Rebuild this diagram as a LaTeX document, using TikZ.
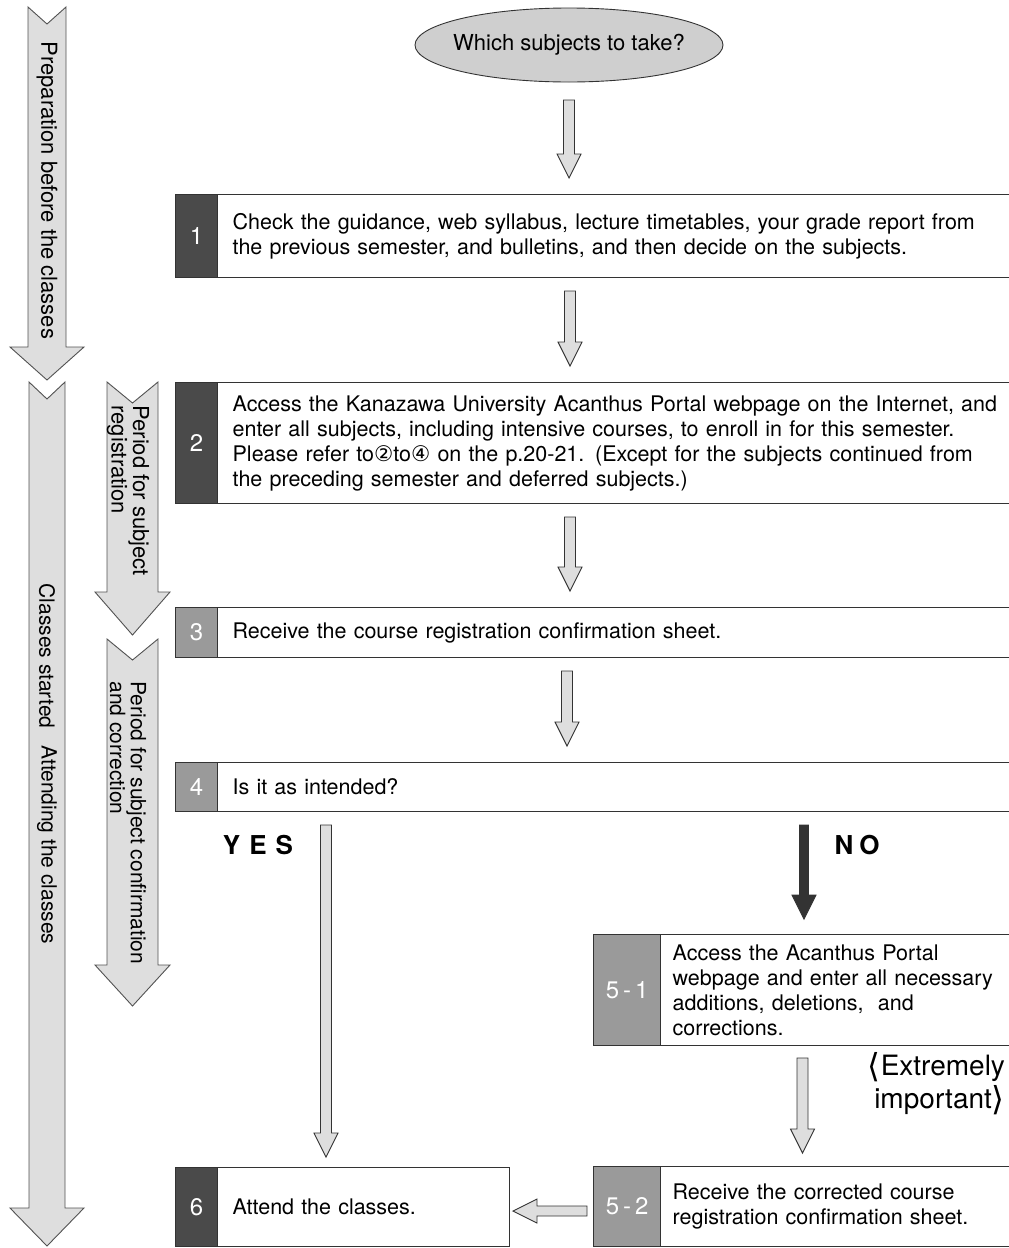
\documentclass[tikz,border=0pt]{standalone}
\usepackage{fontspec}
\setmainfont{TeX Gyre Heros}
\newfontfamily\dejavu{DejaVu Sans}
\usetikzlibrary{calc,shapes.geometric}
\definecolor{arrowfill}{HTML}{DEDEDE}
\definecolor{darknum}{HTML}{4A4A4A}
\definecolor{lightnum}{HTML}{9A9A9A}
\definecolor{ellfill}{HTML}{CFCFCF}
\definecolor{edge}{HTML}{333333}
\newcommand\dnarrow[3][]{\draw[blk,#1] let \p1=(#2), \p2=(#3) in
  (\x1-5.5pt,\y1) -- (\x1+5.5pt,\y1) -- (\x1+5.5pt,\y2+24pt) -- (\x1+12pt,\y2+24pt)
  -- (\x1,\y2) -- (\x1-12pt,\y2+24pt) -- (\x1-5.5pt,\y2+24pt) -- cycle;}
\newcommand\lfarrow[3][]{\draw[blk,#1] let \p1=(#2), \p2=(#3) in
  (\x1,\y1-5pt) -- (\x1,\y1+5pt) -- (\x2+24pt,\y1+5pt) -- (\x2+24pt,\y1+12pt)
  -- (\x2,\y1) -- (\x2+24pt,\y1-12pt) -- (\x2+24pt,\y1-5pt) -- cycle;}
\newcommand\bigbr[1]{{\dejavu\fontsize{33}{33}\selectfont\raisebox{-1.5pt}{#1}}}
\begin{document}
\begin{tikzpicture}[x=1pt,y=-1pt,
  blk/.style={draw=edge, fill=arrowfill, line width=0.9pt},
  bigarrow/.style={draw=edge!85, fill=arrowfill, line width=0.9pt},
  numbox/.style={draw=edge, line width=1.3pt, anchor=north west, minimum width=42,
     text=white, font=\fontsize{24}{24}\selectfont, inner sep=0pt},
  bodybox/.style={draw=edge, line width=1.3pt, anchor=north west, align=left,
     inner xsep=15pt, inner ysep=0pt, font=\fontsize{21.5}{25}\selectfont},
  sidetext/.style={rotate=-90, anchor=west, align=left, font=\fontsize{22}{20}\selectfont},
  yesno/.style={font=\fontsize{26}{26}\selectfont\bfseries},
  imptext/.style={anchor=east, inner sep=0pt, font=\fontsize{28}{28}\selectfont}]
\useasboundingbox (0,0) rectangle (1009,1248);

% timeline arrows
\draw[bigarrow] (28,7) -- (47,24) -- (66,7) -- (66,347) -- (84,347) -- (47,380) -- (10,347) -- (28,347) -- cycle;
\draw[bigarrow] (29,382) -- (47,399) -- (65,382) -- (65,1208) -- (84,1208) -- (47,1246) -- (10,1208) -- (29,1208) -- cycle;
\draw[bigarrow] (107,382) -- (132.5,403) -- (158,382) -- (158,592) -- (170,592) -- (132.5,635) -- (95,592) -- (107,592) -- cycle;
\draw[bigarrow] (107,639) -- (132.5,660) -- (158,639) -- (158,965) -- (170,965) -- (132.5,1006) -- (95,965) -- (107,965) -- cycle;

\node[sidetext] (tprep) at (47,38) {Preparation before the classes};
\node[sidetext, font=\fontsize{21}{21}\selectfont] (tclass) at (47,580) {Classes started};
\node[sidetext, font=\fontsize{21}{21}\selectfont] (tattend) at (47,742) {Attending the classes};
\node[sidetext] (treg) at (128,402) {Period for subject\\registration};
\node[sidetext, font=\fontsize{21}{19}\selectfont] (tconf) at (128,678) {Period for subject confirmation\\and correction};

% start
\draw[draw=edge, line width=0.9pt, fill=ellfill] (569,45) ellipse [x radius=154, y radius=37];
\node[font=\fontsize{22}{22}\selectfont] (start) at (569,45) {Which subjects to take?};

% box 1
\node[numbox, fill=darknum, minimum height=83] (n1) at (175,194) {1};
\node[bodybox, text width=785, minimum height=83] (b1) at (217,194)
  {Check the guidance, web syllabus, lecture timetables, your grade report from\\
   the previous semester, and bulletins, and then decide on the subjects.};
% box 2
\node[numbox, fill=darknum, minimum height=121] (n2) at (175,382) {2};
\node[bodybox, text width=785, minimum height=121] (b2) at (217,382)
  {Access the Kanazawa University Acanthus Portal webpage on the Internet, and\\
   enter all subjects, including intensive courses, to enroll in for this semester.\\
   Please refer to{\dejavu ②}to{\dejavu ④} on the p.20-21. (Except for the subjects continued from\\
   the preceding semester and deferred subjects.)};
% box 3
\node[numbox, fill=lightnum, minimum height=50] (n3) at (175,607) {3};
\node[bodybox, text width=785, minimum height=50] (b3) at (217,607)
  {Receive the course registration confirmation sheet.};
% box 4
\node[numbox, fill=lightnum, minimum height=49] (n4) at (175,762) {4};
\node[bodybox, text width=785, minimum height=49] (b4) at (217,762)
  {Is it as intended?};
% box 5-1
\node[numbox, fill=lightnum, minimum width=67, minimum height=111] (n51) at (593,934) {5\,-\,1};
\node[bodybox, text width=335, minimum height=111, inner xsep=12pt] (b51) at (660,934)
  {Access the Acanthus Portal\\webpage and enter all necessary\\additions, deletions,\ \ and\\corrections.};
% box 5-2
\node[numbox, fill=lightnum, minimum width=67, minimum height=80] (n52) at (593,1166) {5\,-\,2};
\node[bodybox, text width=335, minimum height=80, inner xsep=12pt] (b52) at (660,1166)
  {Receive the corrected course\\registration confirmation sheet.};
% box 6
\node[numbox, fill=darknum, minimum height=79] (n6) at (175,1167) {6};
\node[bodybox, text width=262, minimum height=79] (b6) at (217,1167)
  {Attend the classes.};

% labels
\node[yesno] (yes) at (258,845) {Y\hspace{9pt}E\hspace{9pt}S};
\node[yesno] (no) at (857,845) {N\hspace{6pt}O};
\node[imptext] (imp1) at (1005,1067) {\bigbr{⟨}Extremely};
\node[imptext] (imp2) at (1005,1100) {important\bigbr{⟩}};

% connector coordinates
\coordinate (a1s) at (569,100);  \coordinate (a1e) at (569,178);
\coordinate (a2s) at (570,291);  \coordinate (a2e) at (570,366);
\coordinate (a3s) at (570,517);  \coordinate (a3e) at (570,591);
\coordinate (a4s) at (567,671);  \coordinate (a4e) at (567,746);
\coordinate (ys) at (326,825);   \coordinate (ye) at (326,1157);
\coordinate (nos) at (804,825);  \coordinate (noe) at (804,919);
\coordinate (fs) at (802.5,1058); \coordinate (fe) at (802.5,1153);
\coordinate (ls) at (587,1211);  \coordinate (le) at (513,1211);

\dnarrow{a1s}{a1e}
\dnarrow{a2s}{a2e}
\dnarrow{a3s}{a3e}
\dnarrow{a4s}{a4e}
\dnarrow{ys}{ye}
\draw[blk, fill=edge] let \p1=(nos), \p2=(noe) in
  (\x1-4.5pt,\y1) -- (\x1+4.5pt,\y1) -- (\x1+4.5pt,\y2+24pt) -- (\x1+12pt,\y2+24pt)
  -- (\x1,\y2) -- (\x1-12pt,\y2+24pt) -- (\x1-4.5pt,\y2+24pt) -- cycle;
\dnarrow{fs}{fe}
\lfarrow{ls}{le}
\end{tikzpicture}
\end{document}
